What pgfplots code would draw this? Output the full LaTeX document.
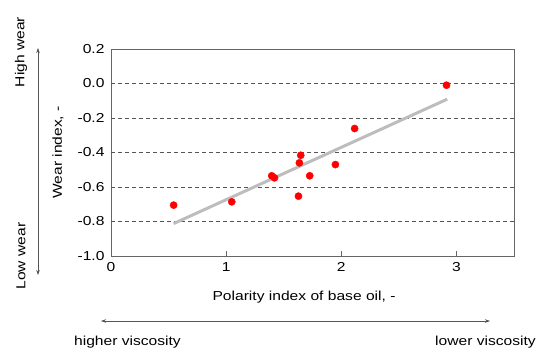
\documentclass[border=0pt]{standalone}
\usepackage{fontspec}
\setmainfont{Liberation Sans}[FakeStretch=1.2]
\usepackage{pgfplots}
\pgfplotsset{compat=1.18}
\usetikzlibrary{arrows.meta}

\definecolor{axisgray}{HTML}{666666}
\definecolor{gridgray}{HTML}{555555}
\definecolor{fitgray}{HTML}{BDBDBD}

\begin{document}
\fontsize{13bp}{15bp}\selectfont
\begin{tikzpicture}
\useasboundingbox (-111bp,-93bp) rectangle (428bp,256bp);
\begin{axis}[
    at={(0,0)}, anchor=south west,
    scale only axis, width=403bp, height=207bp,
    xmin=0, xmax=3.5, ymin=-1, ymax=0.2,
    xtick={0,1,2,3}, xticklabels={0,1,2,3},
    ytick={-1,-0.8,-0.6,-0.4,-0.2,0,0.2},
    yticklabels={-1.0,-0.8,-0.6,-0.4,-0.2,0.0,0.2},
    xtick pos=lower, tick align=inside,
    major tick length=5bp,
    xtick style={axisgray, line width=0.8bp},
    ytick style={draw=none},
    extra y ticks={-0.8,-0.6,-0.4,-0.2,0},
    extra y tick labels={},
    extra y tick style={grid=major, tick style={draw=none}},
    grid style={gridgray, dash pattern=on 4bp off 3bp, line width=0.8bp},
    axis line style={axisgray, line width=0.9bp},
    yticklabel style={xshift=-2bp},
    xticklabel style={yshift=-2bp},
    xlabel={Polarity index of base oil, -},
    ylabel={Wear index, -},
    xlabel style={at={(axis description cs:0.479,-0.197)}, anchor=center},
    ylabel style={at={(axis description cs:-0.1315,0.5)}, anchor=center},
    clip=false,
]
\addplot[fitgray, line width=3bp, no marks] coordinates {(0.544,-0.812) (2.92,-0.091)};
\addplot[only marks, mark=*, mark size=3.6bp, red, mark options={draw=red, fill=red}] coordinates {
    (0.544,-0.705) (1.049,-0.686) (1.396,-0.535) (1.420,-0.547)
    (1.628,-0.653) (1.636,-0.460) (1.648,-0.416) (1.726,-0.535)
    (1.949,-0.470) (2.116,-0.261) (2.914,-0.010)
};
\end{axis}
\draw[gridgray, line width=0.6bp, {Stealth[length=5bp,width=3.5bp]}-{Stealth[length=5bp,width=3.5bp]}] (-73bp,-19bp) -- (-73bp,208bp);
\draw[gridgray, line width=0.6bp, {Stealth[length=5bp,width=3.5bp]}-{Stealth[length=5bp,width=3.5bp]}] (-10bp,-65bp) -- (379bp,-65bp);
\node[rotate=90, anchor=center] at (-90bp,204bp) {High wear};
\node[rotate=90, anchor=center] at (-90bp,0bp) {Low wear};
\node[anchor=base] at (16.5bp,-89.5bp) {higher viscosity};
\node[anchor=base] at (374.5bp,-89.5bp) {lower viscosity};
\end{tikzpicture}
\end{document}
